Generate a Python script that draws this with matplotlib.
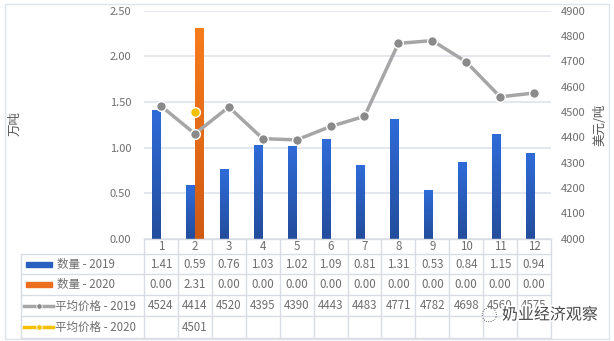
import numpy as np
import matplotlib
matplotlib.use('Agg')
import matplotlib.pyplot as plt
import matplotlib.patheffects as pe
from matplotlib.patches import Rectangle
from matplotlib.colors import LinearSegmentedColormap

plt.rcParams['font.family'] = ['Noto Sans CJK SC', 'DejaVu Sans']

# data
months = ['1', '2', '3', '4', '5', '6', '7', '8', '9', '10', '11', '12']
qty_2019 = [1.41, 0.59, 0.76, 1.03, 1.02, 1.09, 0.81, 1.31, 0.53, 0.84, 1.15, 0.94]
qty_2020 = [0.00, 2.31, 0.00, 0.00, 0.00, 0.00, 0.00, 0.00, 0.00, 0.00, 0.00, 0.00]
price_2019 = [4524, 4414, 4520, 4395, 4390, 4443, 4483, 4771, 4782, 4698, 4560, 4575]
price_2020 = [None, 4501, None, None, None, None, None, None, None, None, None, None]
series_names = ['数量 - 2019', '数量 - 2020', '平均价格 - 2019', '平均价格 - 2020']

BLUE = '#2a5fc2'
ORANGE = '#ec6e1f'
GRAY_LINE = '#a6a6a6'
GRAY_MARK = '#8a8a8a'
YELLOW = '#f5c000'
TXT = '#6e6e6e'
GRID = '#dfe3ea'

blue_cmap = LinearSegmentedColormap.from_list('b', ['#234d9c', '#2f6bd8'])
orange_cmap = LinearSegmentedColormap.from_list('o', ['#cf5a14', '#f87c1c'])

W, H = 614, 341
fig = plt.figure(figsize=(W / 100, H / 100), dpi=100)

# plot area in pixels
px_left, px_right, px_top, px_bottom = 144, 551, 10.7, 238.7
ax = fig.add_axes([px_left / W, (H - px_bottom) / H, (px_right - px_left) / W, (px_bottom - px_top) / H])
x = np.arange(1, len(months) + 1)
bw = 0.25
grad = np.linspace(0, 1, 100).reshape(-1, 1)


def gradient_bars(xs, hs, cmap, color):
    bars = ax.bar(xs, hs, bw, color=color, zorder=3)
    for b in bars:
        h = b.get_height()
        if h <= 0:
            continue
        im = ax.imshow(grad, extent=[b.get_x(), b.get_x() + b.get_width(), 0, h],
                       origin='lower', aspect='auto', cmap=cmap, zorder=3.5)
        im.set_clip_path(b)


gradient_bars(x - bw / 2, qty_2019, blue_cmap, BLUE)
gradient_bars(x + bw / 2, qty_2020, orange_cmap, ORANGE)
ax.set_xlim(0.5, 12.5)
ax.set_ylim(0, 2.5)
ax.set_yticks(np.arange(0, 2.51, 0.5))
ax.set_yticklabels(['%.2f' % v for v in np.arange(0, 2.51, 0.5)])
ax.set_xticks([])
ax.yaxis.grid(True, color=GRID, linewidth=1.2, zorder=0)
ax.set_axisbelow(True)
ax.tick_params(axis='y', length=0, pad=9, labelsize=8, labelcolor=TXT)
for s in ax.spines.values():
    s.set_visible(False)

ax2 = ax.twinx()
ax2.plot(x, price_2019, color=GRAY_LINE, linewidth=2.5, marker='o', markersize=7,
         markerfacecolor=GRAY_MARK, markeredgecolor='white', markeredgewidth=1.0, zorder=5)
p20 = np.array([np.nan if v is None else v for v in price_2020], dtype=float)
ax2.plot(x, p20, color=YELLOW, linewidth=2.5, marker='o', markersize=7,
         markerfacecolor=YELLOW, markeredgecolor='white', markeredgewidth=1.0, zorder=5)
ax2.set_ylim(4000, 4900)
ax2.set_yticks(np.arange(4000, 4901, 100))
ax2.tick_params(axis='y', length=0, pad=7, labelsize=8, labelcolor=TXT)
ax2.set_xlim(0.5, 12.5)
for s in ax2.spines.values():
    s.set_visible(False)

fig.text(15 / W, 1 - 123 / H, '万吨', rotation=90, ha='center', va='center', fontsize=9, color='#555555')
fig.text(600 / W, 1 - 125 / H, '美元/吨', rotation=90, ha='center', va='center', fontsize=9, color='#555555')

# data table under the plot
tbl_left = 21
colw = (px_right - px_left) / 12
x0 = 0.5 - (px_left - tbl_left) / colw
rows = [238.7, 254.5, 274.5, 295.5, 316.5, 337.7]
axt = fig.add_axes([tbl_left / W, (H - rows[-1]) / H, (px_right - tbl_left) / W, (rows[-1] - rows[0]) / H])
axt.set_xlim(x0, 12.5)
axt.set_ylim(rows[-1], rows[0])
axt.axis('off')
lc = '#d9dde3'
lw = 1.0
# horizontal lines
axt.plot([0.5, 12.5], [rows[0], rows[0]], color=lc, lw=lw, clip_on=False)
for r in rows[1:]:
    axt.plot([x0, 12.5], [r, r], color=lc, lw=lw, clip_on=False)
# vertical lines
for b in np.arange(0.5, 12.51, 1.0):
    axt.plot([b, b], [rows[0], rows[-1]], color=lc, lw=lw, clip_on=False)
axt.plot([x0, x0], [rows[1], rows[-1]], color=lc, lw=lw, clip_on=False)

mid = [(rows[i] + rows[i + 1]) / 2 for i in range(len(rows) - 1)]
fs = 8.3
for i, m in enumerate(months):
    axt.text(x[i], mid[0], m, ha='center', va='center', fontsize=fs, color=TXT)
    axt.text(x[i], mid[1], '%.2f' % qty_2019[i], ha='center', va='center', fontsize=fs, color=TXT)
    axt.text(x[i], mid[2], '%.2f' % qty_2020[i], ha='center', va='center', fontsize=fs, color=TXT)
    axt.text(x[i], mid[3], '%d' % price_2019[i], ha='center', va='center', fontsize=fs, color=TXT)
    if price_2020[i] is not None:
        axt.text(x[i], mid[4], '%d' % price_2020[i], ha='center', va='center', fontsize=fs, color=TXT)

# legend keys in first column
ux = colw  # pixels per unit


def px(p):
    return x0 + (p - tbl_left) / ux


axt.add_patch(Rectangle((px(26), mid[1] - 2.5), (52 - 26) / ux, 5, color=BLUE, clip_on=False))
axt.add_patch(Rectangle((px(26), mid[2] - 2.5), (52 - 26) / ux, 5, color=ORANGE, clip_on=False))
axt.plot([px(24), px(53)], [mid[3], mid[3]], color=GRAY_LINE, lw=2.5, clip_on=False)
axt.plot([px(38.5)], [mid[3]], 'o', color=GRAY_MARK, ms=4, mec='white', mew=0.6, clip_on=False)
axt.plot([px(24), px(53)], [mid[4], mid[4]], color=YELLOW, lw=2.5, clip_on=False)
axt.plot([px(38.5)], [mid[4]], 'o', color=YELLOW, ms=4, mec='white', mew=0.6, clip_on=False)
axt.text(px(57), mid[1], series_names[0], ha='left', va='center', fontsize=fs, color=TXT)
axt.text(px(57), mid[2], series_names[1], ha='left', va='center', fontsize=fs, color=TXT)
axt.text(px(55), mid[3], series_names[2], ha='left', va='center', fontsize=fs, color=TXT)
axt.text(px(55), mid[4], series_names[3], ha='left', va='center', fontsize=fs, color=TXT)

# outer frame
fig.patches.append(Rectangle((5 / W, 1 - 339 / H), 604 / W, 335 / H, transform=fig.transFigure,
                             fill=False, edgecolor='#dde3ea', linewidth=1.0))

# watermark
fig.text(550 / W, 1 - 315 / H, '奶业经济观察', ha='center', va='center', fontsize=11.5, color='#4a4a4a',
         path_effects=[pe.withStroke(linewidth=2.5, foreground='white')], zorder=10)
fig.text(489 / W, 1 - 316 / H, '◌', ha='center', va='center', fontsize=12, color='#777777', zorder=10)

fig.savefig('out.png', dpi=100)
